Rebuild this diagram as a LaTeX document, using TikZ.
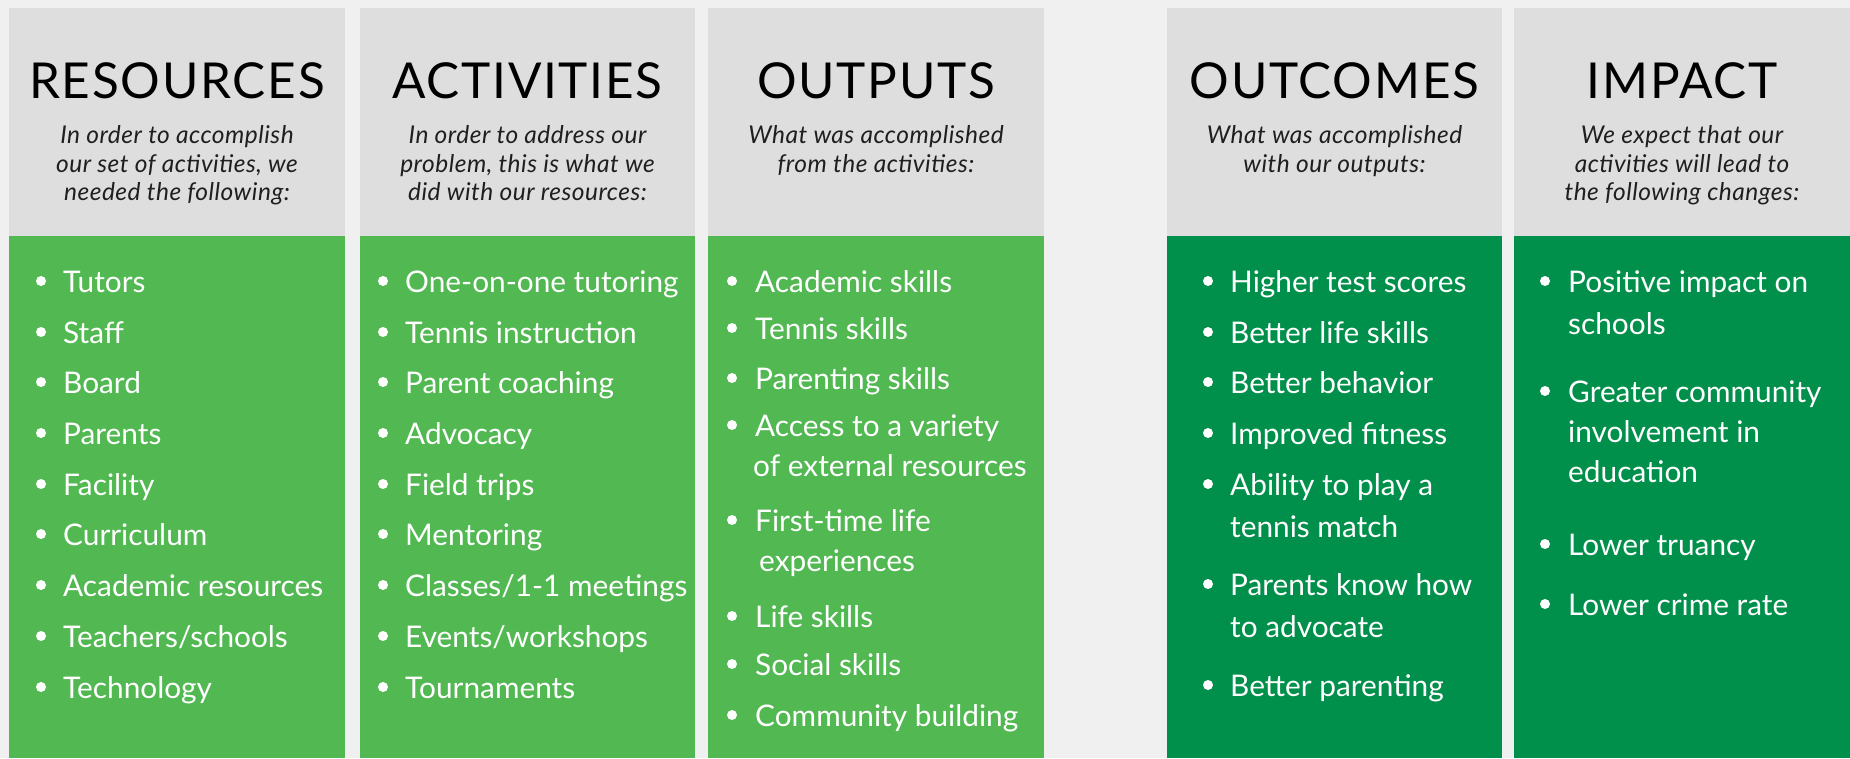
\documentclass[tikz,border=0pt]{standalone}
\usepackage{fontspec}
\setmainfont{Lato}
\definecolor{bgc}{HTML}{F0F0F0}
\definecolor{hdr}{HTML}{DEDEDE}
\definecolor{gA}{HTML}{52B852}
\definecolor{gB}{HTML}{00904B}
\newcommand\Itm[5]{%
  \node[bul] (#1b) at (#2,#4-11) {};
  \node[itm] (#1) at (#3,#4) {#5};}
\begin{document}
\begin{tikzpicture}[x=1pt,y=-1pt,
  ttl/.style={anchor=base,inner sep=0pt,font=\fontsize{49.5}{50}\selectfont\addfontfeature{LetterSpace=3.5},text=black},
  sub/.style={anchor=base,inner sep=0pt,font=\fontsize{24.5}{26}\selectfont\itshape\addfontfeature{LetterSpace=2},text=black!88},
  itm/.style={anchor=base west,inner sep=0pt,font=\fontsize{29.8}{31}\selectfont,text=white},
  bul/.style={circle,fill=white,inner sep=0pt,minimum size=10pt}]
\fill[bgc] (0,0) rectangle (1850,758);
\useasboundingbox (0,0) rectangle (1850,758);
% columns
\foreach \l/\r/\g in {9/345/gA,360/695/gA,708/1044/gA,1167/1502/gB,1514/1850/gB}{
  \fill[hdr] (\l,8) rectangle (\r,236);
  \fill[\g] (\l,236) rectangle (\r,758);
}
% titles
\node[ttl] (t1) at (177,98) {RESOURCES};
\node[ttl] (t2) at (527.5,98) {ACTIVITIES};
\node[ttl] (t3) at (876,98) {OUTPUTS};
\node[ttl] (t4) at (1334.5,98) {OUTCOMES};
\node[ttl] (t5) at (1682,98) {IMPACT};
% subtitles
\node[sub] (s1a) at (177,143) {In order to accomplish};
\node[sub] (s1b) at (177,172) {our set of activities, we};
\node[sub] (s1c) at (177,200) {needed the following:};
\node[sub] (s2a) at (527.5,143) {In order to address our};
\node[sub] (s2b) at (527.5,172) {problem, this is what we};
\node[sub] (s2c) at (527.5,200) {did with our resources:};
\node[sub] (s3a) at (876,143) {What was accomplished};
\node[sub] (s3b) at (876,172) {from the activities:};
\node[sub] (s4a) at (1334.5,143) {What was accomplished};
\node[sub] (s4b) at (1334.5,172) {with our outputs:};
\node[sub] (s5a) at (1682,143) {We expect that our};
\node[sub] (s5b) at (1682,172) {activities will lead to};
\node[sub] (s5c) at (1682,200) {the following changes:};
% column 1
\Itm{a1}{41}{63}{292}{Tutors}
\Itm{a2}{41}{63}{343}{Staff}
\Itm{a3}{41}{63}{393}{Board}
\Itm{a4}{41}{63}{444}{Parents}
\Itm{a5}{41}{63}{495}{Facility}
\Itm{a6}{41}{63}{545}{Curriculum}
\Itm{a7}{41}{63}{596}{Academic resources}
\Itm{a8}{41}{63}{647}{Teachers/schools}
\Itm{a9}{41}{63}{698}{Technology}
% column 2
\Itm{b1}{383}{405}{292}{One-on-one tutoring}
\Itm{b2}{383}{405}{343}{Tennis instruction}
\Itm{b3}{383}{405}{393}{Parent coaching}
\Itm{b4}{383}{405}{444}{Advocacy}
\Itm{b5}{383}{405}{495}{Field trips}
\Itm{b6}{383}{405}{545}{Mentoring}
\Itm{b7}{383}{405}{596}{Classes/1-1 meetings}
\Itm{b8}{383}{405}{647}{Events/workshops}
\Itm{b9}{383}{405}{698}{Tournaments}
% column 3
\Itm{c1}{732}{755}{292}{Academic skills}
\Itm{c2}{732}{755}{339}{Tennis skills}
\Itm{c3}{732}{755}{389}{Parenting skills}
\Itm{c4}{732}{755}{436}{Access to a variety}
\node[itm] (c4x) at (753,476) {of external resources};
\Itm{c5}{732}{755}{531}{First-time life}
\node[itm] (c5x) at (759,571) {experiences};
\Itm{c6}{732}{755}{627}{Life skills}
\Itm{c7}{732}{755}{675}{Social skills}
\Itm{c8}{732}{755}{726}{Community building}
% column 4
\Itm{d1}{1208}{1230}{292}{Higher test scores}
\Itm{d2}{1208}{1230}{343}{Better life skills}
\Itm{d3}{1208}{1230}{393}{Better behavior}
\Itm{d4}{1208}{1230}{444}{Improved fitness}
\Itm{d5}{1208}{1230}{495}{Ability to play a}
\node[itm] (d5x) at (1230,537) {tennis match};
\Itm{d6}{1208}{1230}{595}{Parents know how}
\node[itm] (d6x) at (1230,637) {to advocate};
\Itm{d7}{1208}{1230}{696}{Better parenting}
% column 5
\Itm{e1}{1545}{1568}{292}{Positive impact on}
\node[itm] (e1x) at (1568,334) {schools};
\Itm{e2}{1545}{1568}{402}{Greater community}
\node[itm] (e2x) at (1568,442) {involvement in};
\node[itm] (e2y) at (1568,482) {education};
\Itm{e3}{1545}{1568}{555}{Lower truancy}
\Itm{e4}{1545}{1568}{615}{Lower crime rate}
\end{tikzpicture}
\end{document}
